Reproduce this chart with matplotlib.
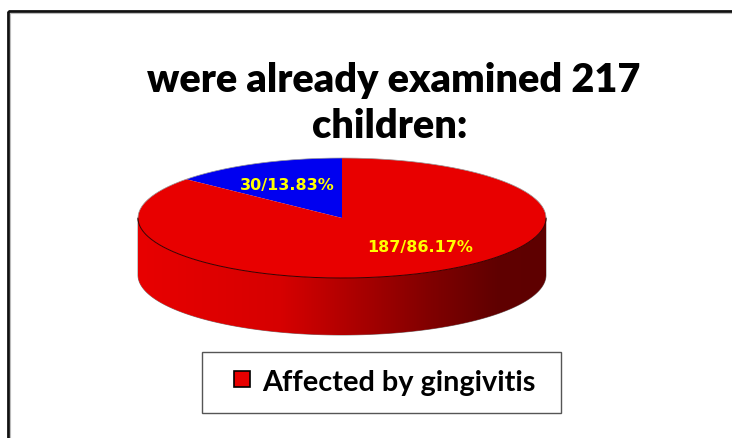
import matplotlib
matplotlib.use('Agg')
import matplotlib.pyplot as plt
from matplotlib.colors import LinearSegmentedColormap
from matplotlib.patches import Polygon, Rectangle
import numpy as np

# ---- Data ----
slice_names = ['Not affected', 'Affected by gingivitis']
counts = [30, 187]
pct_labels = [13.83, 86.17]
slice_colors = ['#0000F0', '#E80000']
legend_entries = ['Affected by gingivitis']
title_text = 'were already examined 217\nchildren:'

# ---- Layout (pixel units, y grows downward) ----
W, H = 732, 438
CX, CY = 342, 218          # centre of top face
RA, RB = 204, 60           # ellipse semi-axes
DEPTH = 57                 # pie thickness
START = 90                 # first slice starts at 12 o'clock
LABEL_R = [(0.64, 0.60), (0.91, 0.55)]

TITLE_FONT = 'Lato'
LABEL_YELLOW = '#FFFF00'

fig = plt.figure(figsize=(W / 100, H / 100), dpi=100)
ax = fig.add_axes([0, 0, 1, 1])
ax.set_xlim(0, W)
ax.set_ylim(H, 0)
ax.axis('off')


def ell(theta_deg, dy=0.0):
    t = np.radians(theta_deg)
    return np.column_stack([CX + RA * np.cos(t), CY - RB * np.sin(t) + dy])


# ---- outer chart frame (cropped at right/bottom) ----
ax.add_patch(Rectangle((7.5, 11), W, H, fill=False, ec='#111111', lw=2.0, zorder=1))
ax.add_patch(Rectangle((9.5, 13), W, H, fill=False, ec='#BBBBBB', lw=0.8, zorder=1))

# ---- side wall (front half) with horizontal shading ----
front = np.linspace(180, 360, 200)
side_pts = np.vstack([ell(front), ell(front[::-1], DEPTH)])
side = Polygon(side_pts, closed=True, fc='none', ec='#777777', lw=0.6, zorder=2)
ax.add_patch(side)
shade = LinearSegmentedColormap.from_list(
    'side', [(0, '#E80000'), (0.35, '#D60000'), (0.72, '#800000'), (0.88, '#600000'), (1, '#5E0000')])
grad = np.linspace(0, 1, 256)[None, :]
im = ax.imshow(grad, cmap=shade, aspect='auto', zorder=2,
               extent=(CX - RA, CX + RA, CY + RB + DEPTH, CY - RB))
im.set_clip_path(side)

# ---- top face wedges ----
total = sum(counts)
theta0 = START
for i, (n, col) in enumerate(zip(counts, slice_colors)):
    sweep = 360 * n / total
    arc = np.linspace(theta0, theta0 + sweep, 150)
    pts = np.vstack([[CX, CY], ell(arc)])
    ax.add_patch(Polygon(pts, closed=True, fc=col, ec='none', zorder=3))
    mid = np.radians(theta0 + sweep / 2)
    rx, ry = LABEL_R[i]
    ax.text(CX + rx * RA * np.cos(mid), CY - ry * RB * np.sin(mid),
            f'{n}/{pct_labels[i]:.2f}%', color=LABEL_YELLOW, fontsize=11.5,
            fontweight='bold', family='DejaVu Sans', ha='center', va='center', zorder=5)
    theta0 += sweep

# thin dark rim along front edge of the top face
rim = ell(front)
ax.plot(rim[:, 0], rim[:, 1], color='#3A0000', lw=0.7, zorder=4)
outline = ell(np.linspace(0, 180, 200))
ax.plot(outline[:, 0], outline[:, 1], color='#999999', lw=0.5, zorder=4)

# ---- title ----
line1, line2 = title_text.split('\n')
ax.text(394, 92, line1, fontsize=28.5, fontweight='heavy',
        family=TITLE_FONT, ha='center', va='baseline', color='black', zorder=5)
ax.text(390, 138, line2, fontsize=28.5, fontweight='heavy',
        family=TITLE_FONT, ha='center', va='baseline', color='black', zorder=5)

# ---- legend box ----
ax.add_patch(Rectangle((202, 352), 359, 61, fc='white', ec='#555555', lw=1.0, zorder=5))
ax.add_patch(Rectangle((234, 371), 16, 16, fc=slice_colors[1], ec='black', lw=1.2, zorder=6))
ax.text(262, 391, legend_entries[0], fontsize=20.8, fontweight='bold', family=TITLE_FONT,
        ha='left', va='baseline', color='black', zorder=6)

fig.savefig('out.png', dpi=100, facecolor='white')
